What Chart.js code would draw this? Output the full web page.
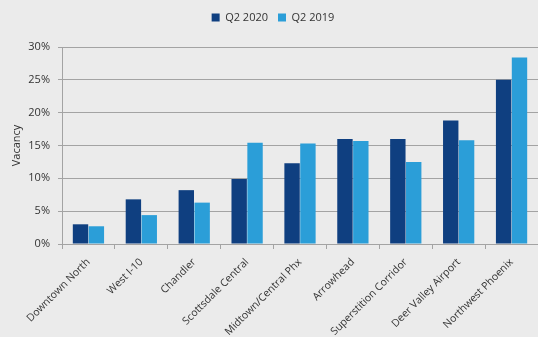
<!DOCTYPE html>
<html>
<head>
<meta charset="utf-8">
<script src="https://cdn.jsdelivr.net/npm/chart.js@4.4.0/dist/chart.umd.min.js"></script>
<style>
  html, body { margin: 0; padding: 0; background: #ebebeb; }
  #wrap { width: 538px; height: 337px; }
</style>
</head>
<body>
<div id="wrap"><canvas id="my-chart"></canvas></div>
<script>
// submarkets
const submarkets = ["Downtown North", "West I-10", "Chandler", "Scottsdale Central",
  "Midtown/Central Phx", "Arrowhead", "Superstition Corridor", "Deer Valley Airport", "Northwest Phoenix"];
// vacancy in %
const q2_2020 = [3.0, 6.8, 8.2, 9.9, 12.3, 16.0, 16.0, 18.8, 25.0];
const q2_2019 = [2.7, 4.4, 6.3, 15.4, 15.3, 15.7, 12.5, 15.8, 28.4];
const yTicks = [0, 5, 10, 15, 20, 25, 30];

const txt = '#333';
const grid = '#a3a3a3';
Chart.defaults.font.family = "'Open Sans', sans-serif";
Chart.defaults.font.size = 11;
Chart.defaults.color = txt;

// give the legend a taller box so the plot starts lower
const legendSpace = {
  id: 'legendSpace',
  afterInit(chart) {
    const lg = chart.legend;
    const fit = lg.fit.bind(lg);
    lg.fit = function () { fit(); this.height += 14; };
  }
};

new Chart(document.getElementById("my-chart"), {
  type: 'bar',
  data: {
    labels: submarkets,
    datasets: [
      { label: 'Q2 2020', data: q2_2020, backgroundColor: '#0f3f80' },
      { label: 'Q2 2019', data: q2_2019, backgroundColor: '#2b9ed8' }
    ]
  },
  plugins: [legendSpace],
  options: {
    responsive: true,
    maintainAspectRatio: false,
    animation: false,
    layout: { padding: { left: 8, right: 0, top: 2, bottom: 0 } },
    datasets: { bar: { categoryPercentage: 0.6, barPercentage: 0.97 } },
    plugins: {
      legend: {
        position: 'top',
        labels: { boxWidth: 8, boxHeight: 8, padding: 10, color: txt, font: { size: 11 } }
      },
      tooltip: { enabled: false }
    },
    scales: {
      x: {
        grid: { display: true, drawOnChartArea: false, offset: true, tickLength: 5, color: grid },
        border: { color: grid },
        ticks: { minRotation: 45, maxRotation: 45, padding: 7, color: txt, font: { size: 10.5 } },
        afterFit: (s) => { s.height = 93; }
      },
      y: {
        min: 0, max: 30,
        afterBuildTicks: (s) => { s.ticks = yTicks.map(v => ({ value: v })); },
        grid: { color: grid, tickLength: 4 },
        border: { color: grid },
        ticks: { callback: (v) => v + '%', padding: 8, color: txt, font: { size: 11 } },
        title: { display: true, text: 'Vacancy', color: txt, font: { size: 11 }, padding: { top: 2, bottom: 2 } },
        afterFit: (s) => { s.width = 54; }
      }
    }
  }
});
</script>
</body>
</html>
